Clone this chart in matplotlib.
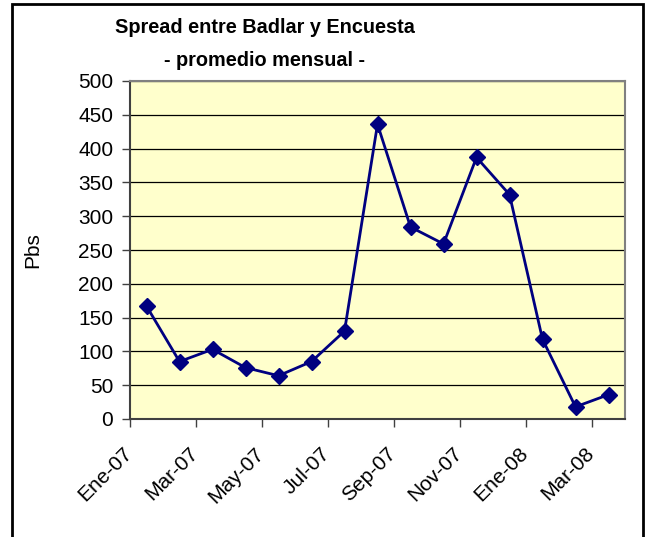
import matplotlib.pyplot as plt
from matplotlib.patches import Rectangle
from matplotlib.transforms import ScaledTranslation

plt.rcParams['font.family'] = ['Liberation Sans', 'DejaVu Sans']

# monthly averages, Jan-07 .. Mar-08 (points sit mid-month)
months = ['Ene-07', 'Feb-07', 'Mar-07', 'Abr-07', 'May-07', 'Jun-07', 'Jul-07',
          'Ago-07', 'Sep-07', 'Oct-07', 'Nov-07', 'Dic-07', 'Ene-08', 'Feb-08', 'Mar-08']
spread = [167, 85, 103, 76, 64, 85, 130, 436, 284, 259, 387, 332, 118, 18, 36]

tick_labels = ['Ene-07', 'Mar-07', 'May-07', 'Jul-07', 'Sep-07', 'Nov-07', 'Ene-08', 'Mar-08']

x = [i + 0.5 for i in range(len(spread))]

fig = plt.figure(figsize=(6.51, 5.37), dpi=100)
ax = fig.add_axes([130 / 651, 1 - 419 / 537, 495 / 651, 338 / 537])

# outer chart frame
fig.patches.append(Rectangle((12 / 651, -0.05), 631 / 651, 1 - 4 / 537 + 0.05,
                             transform=fig.transFigure, fill=False,
                             edgecolor='black', lw=2))

ax.set_facecolor('#FFFFCC')
ax.plot(x, spread, color='#000080', lw=2, marker='D', ms=8,
        markerfacecolor='#000080', markeredgecolor='#000080', zorder=3)

ax.set_xlim(0, 15)
ax.set_ylim(0, 500)
ax.set_yticks(range(0, 501, 50))
ax.set_xticks(range(0, 15, 2))
ax.set_xticklabels(tick_labels, rotation=45, ha='right', rotation_mode='anchor')
ax.yaxis.grid(True, color='black', lw=0.9)
ax.set_axisbelow(True)

for s in ['top', 'right']:
    ax.spines[s].set_color('#808080')
    ax.spines[s].set_linewidth(1.5)
for s in ['left', 'bottom']:
    ax.spines[s].set_color('#404040')
    ax.spines[s].set_linewidth(1.5)

ax.tick_params(axis='both', direction='out', length=6, width=1, color='#404040',
               labelsize=15)
ax.tick_params(axis='y', pad=6)
ax.tick_params(axis='x', pad=12)

# nudge rotated labels left so they end just before the tick
shift = ScaledTranslation(-8 / 100, 0, fig.dpi_scale_trans)
for lbl in ax.get_xticklabels():
    lbl.set_transform(lbl.get_transform() + shift)

ax.set_ylabel('Pbs', fontsize=15)
ax.yaxis.set_label_coords(-0.178, 0.5)

fig.text(265 / 651, 1 - 28 / 537, 'Spread entre Badlar y Encuesta', ha='center',
         va='center', fontsize=14.3, fontweight='bold')
fig.text(265 / 651, 1 - 60 / 537, '- promedio mensual -', ha='center',
         va='center', fontsize=14.3, fontweight='bold')

fig.savefig('out.png', dpi=100)
